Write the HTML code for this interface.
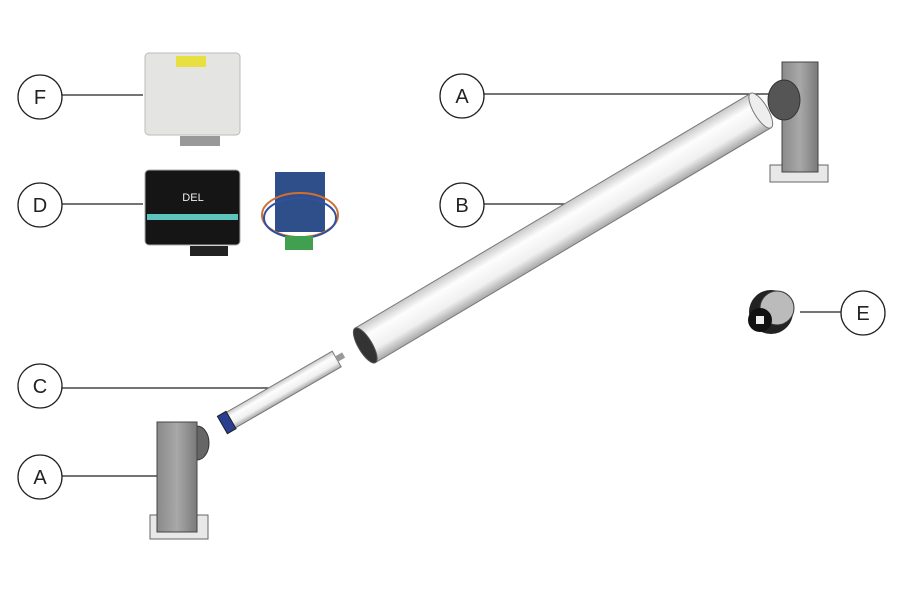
<!DOCTYPE html>
<html><head><style>
html,body{margin:0;padding:0;background:#fff;}
svg{display:block;}
text{font-family:"Liberation Sans",sans-serif;}
</style></head><body>
<svg width="900" height="600" viewBox="0 0 900 600" xmlns="http://www.w3.org/2000/svg">
<defs>
<linearGradient id="tube" x1="0" y1="0" x2="0" y2="1">
<stop offset="0" stop-color="#c8c8c8"/><stop offset="0.3" stop-color="#fdfdfd"/><stop offset="0.7" stop-color="#f0f0f0"/><stop offset="1" stop-color="#a8a8a8"/>
</linearGradient>
<linearGradient id="post" x1="0" y1="0" x2="1" y2="0">
<stop offset="0" stop-color="#8a8a8a"/><stop offset="0.5" stop-color="#a8a8a8"/><stop offset="1" stop-color="#7a7a7a"/>
</linearGradient>
</defs>
<g stroke="#222" stroke-width="1.3" fill="none">
<line x1="62" y1="95" x2="143" y2="95"/>
<line x1="484" y1="94" x2="772" y2="94"/>
<line x1="62" y1="204" x2="143" y2="204"/>
<line x1="484" y1="204" x2="572" y2="204"/>
<line x1="800" y1="312" x2="841" y2="312"/>
<line x1="62" y1="388" x2="276" y2="388"/>
<line x1="62" y1="476" x2="158" y2="476"/>
</g>
<g stroke="#222" stroke-width="1.3" fill="#fff">
<circle cx="40" cy="97" r="22"/><circle cx="462" cy="96" r="22"/>
<circle cx="40" cy="205" r="22"/><circle cx="462" cy="205" r="22"/>
<circle cx="863" cy="313" r="22"/><circle cx="40" cy="386" r="22"/>
<circle cx="40" cy="477" r="22"/>
</g>
<g font-size="20" fill="#222" text-anchor="middle">
<text x="40" y="104">F</text><text x="462" y="103">A</text>
<text x="40" y="212">D</text><text x="462" y="212">B</text>
<text x="863" y="320">E</text><text x="40" y="393">C</text>
<text x="40" y="484">A</text>
</g>
<!-- F box -->
<rect x="145" y="53" width="95" height="82" rx="4" fill="#e4e4e2" stroke="#bbb"/>
<rect x="176" y="56" width="30" height="11" fill="#e8e040"/>
<rect x="180" y="136" width="40" height="10" fill="#999"/>
<!-- D box -->
<rect x="145" y="170" width="95" height="75" rx="4" fill="#151515" stroke="#aaa"/>
<rect x="147" y="214" width="91" height="6" fill="#5cc4bc"/>
<text x="193" y="201" font-size="11" fill="#eee" text-anchor="middle">DEL</text>
<rect x="190" y="246" width="38" height="10" fill="#222"/>
<!-- PCB -->
<rect x="275" y="172" width="50" height="60" fill="#2f4f8a"/>
<ellipse cx="300" cy="215" rx="38" ry="22" fill="none" stroke="#d07030" stroke-width="2"/>
<ellipse cx="300" cy="218" rx="36" ry="20" fill="none" stroke="#3050a0" stroke-width="2"/>
<rect x="285" y="236" width="28" height="14" fill="#40a050"/>
<!-- right bracket -->
<rect x="770" y="165" width="58" height="17" fill="#e8e8e8" stroke="#666"/>
<rect x="782" y="62" width="36" height="110" fill="url(#post)" stroke="#444"/>
<ellipse cx="784" cy="100" rx="16" ry="20" fill="#555" stroke="#333"/>
<!-- main tube -->
<g transform="translate(563,228) rotate(-30.7)">
<rect x="-230" y="-20" width="460" height="40" fill="url(#tube)" stroke="#777"/>
<ellipse cx="230" cy="0" rx="7" ry="20" fill="#eee" stroke="#777"/>
<ellipse cx="-230" cy="0" rx="7" ry="20" fill="#333" stroke="#555"/>
</g>
<!-- motor tube -->
<g transform="translate(283,390) rotate(-30)">
<rect x="-62" y="-9" width="124" height="18" fill="url(#tube)" stroke="#777"/>
<rect x="-70" y="-10" width="10" height="20" fill="#2a3f90" stroke="#222"/>
<rect x="62" y="-3" width="8" height="6" fill="#999"/>
</g>
<!-- left bracket -->
<rect x="150" y="515" width="58" height="24" fill="#e8e8e8" stroke="#666"/>
<ellipse cx="197" cy="443" rx="12" ry="17" fill="#666" stroke="#333"/>
<rect x="157" y="422" width="40" height="110" fill="url(#post)" stroke="#444"/>
<!-- E knob -->
<circle cx="771" cy="312" r="22" fill="#222"/>
<circle cx="777" cy="308" r="17" fill="#bbb" stroke="#333"/>
<circle cx="760" cy="320" r="12" fill="#111"/>
<rect x="756" y="316" width="8" height="8" fill="#eee"/>
</svg>
</body></html>
